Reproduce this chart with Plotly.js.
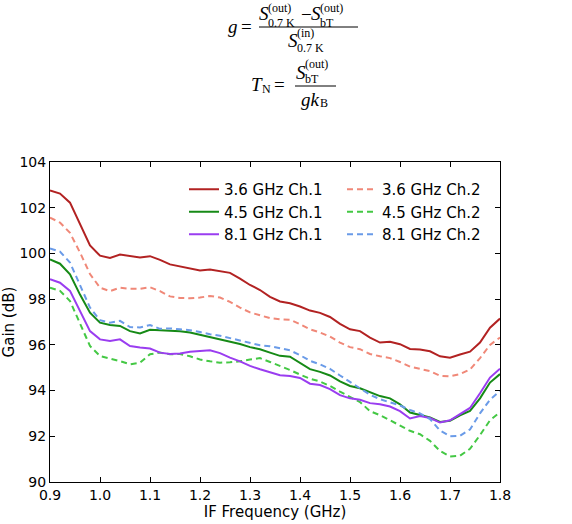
<!DOCTYPE html>
<html>
<head>
<meta charset="utf-8">
<script src="https://cdn.plot.ly/plotly-3.0.1.min.js"></script>
<style>
  html, body { margin: 0; padding: 0; background: #ffffff; }
  #chart { width: 572px; height: 524px; }
</style>
</head>
<body>
<div id="chart"></div>
<script>
// IF frequency grid (GHz)
const freq = [0.90, 0.92, 0.94, 0.96, 0.98, 1.00, 1.02, 1.04, 1.06, 1.08,
              1.10, 1.12, 1.14, 1.16, 1.18, 1.20, 1.22, 1.24, 1.26, 1.28,
              1.30, 1.32, 1.34, 1.36, 1.38, 1.40, 1.42, 1.44, 1.46, 1.48,
              1.50, 1.52, 1.54, 1.56, 1.58, 1.60, 1.62, 1.64, 1.66, 1.68,
              1.70, 1.72, 1.74, 1.76, 1.78, 1.80];

// Gain (dB) per LO frequency and channel
const gain36ch1 = [102.75, 102.62, 102.22, 101.30, 100.35, 99.90, 99.80, 99.95, 99.88, 99.82,
                   99.88, 99.72, 99.52, 99.42, 99.32, 99.25, 99.30, 99.22, 99.15, 98.90,
                   98.62, 98.40, 98.10, 97.90, 97.82, 97.68, 97.50, 97.40, 97.22, 96.92,
                   96.68, 96.60, 96.32, 96.10, 96.14, 96.03, 95.82, 95.80, 95.72, 95.50,
                   95.44, 95.58, 95.70, 96.10, 96.75, 97.15];
const gain36ch2 = [101.57, 101.35, 100.90, 100.04, 99.10, 98.50, 98.35, 98.50, 98.45, 98.45,
                   98.52, 98.35, 98.12, 98.05, 98.04, 98.07, 98.14, 98.07, 97.88, 97.63,
                   97.42, 97.29, 97.17, 97.12, 97.10, 96.90, 96.68, 96.54, 96.36, 96.10,
                   95.90, 95.81, 95.60, 95.50, 95.42, 95.25, 95.05, 94.95, 94.85, 94.65,
                   94.62, 94.72, 94.92, 95.42, 96.00, 96.32];
const gain45ch1 = [99.74, 99.55, 99.09, 98.20, 97.41, 96.97, 96.87, 96.83, 96.60, 96.50,
                   96.66, 96.64, 96.60, 96.60, 96.54, 96.44, 96.34, 96.22, 96.12, 96.04,
                   95.90, 95.81, 95.66, 95.52, 95.48, 95.22, 94.94, 94.82, 94.66, 94.40,
                   94.20, 94.10, 93.92, 93.76, 93.66, 93.40, 93.04, 92.94, 92.82, 92.63,
                   92.68, 92.92, 93.11, 93.66, 94.35, 94.72];
const gain45ch2 = [98.50, 98.36, 97.92, 96.90, 95.95, 95.51, 95.41, 95.29, 95.15, 95.22,
                   95.59, 95.66, 95.59, 95.60, 95.50, 95.36, 95.28, 95.22, 95.24, 95.28,
                   95.36, 95.42, 95.25, 95.08, 94.90, 94.70, 94.52, 94.40, 94.20, 93.95,
                   93.72, 93.50, 93.10, 92.92, 92.70, 92.48, 92.24, 92.09, 91.80, 91.36,
                   91.12, 91.15, 91.45, 92.05, 92.70, 93.05];
const gain81ch1 = [98.87, 98.72, 98.36, 97.48, 96.60, 96.24, 96.17, 96.24, 95.95, 95.88,
                   95.84, 95.66, 95.60, 95.62, 95.70, 95.73, 95.76, 95.64, 95.44, 95.28,
                   95.08, 94.93, 94.80, 94.67, 94.64, 94.55, 94.30, 94.24, 94.06, 93.80,
                   93.66, 93.60, 93.45, 93.40, 93.30, 93.10, 92.78, 92.89, 92.80, 92.60,
                   92.70, 92.96, 93.24, 93.88, 94.57, 94.96];
const gain81ch2 = [100.22, 100.08, 99.60, 98.65, 97.63, 97.08, 96.97, 97.05, 96.78, 96.76,
                   96.87, 96.70, 96.72, 96.68, 96.64, 96.56, 96.46, 96.40, 96.30, 96.20,
                   96.08, 95.98, 95.94, 95.84, 95.76, 95.55, 95.30, 95.15, 94.95, 94.66,
                   94.38, 94.08, 93.82, 93.62, 93.50, 93.35, 93.15, 93.00, 92.75, 92.25,
                   92.00, 92.02, 92.30, 93.00, 93.60, 93.98];

const seriesNames = ['3.6 GHz Ch.1', '4.5 GHz Ch.1', '8.1 GHz Ch.1',
                     '3.6 GHz Ch.2', '4.5 GHz Ch.2', '8.1 GHz Ch.2'];
const seriesData = [gain36ch1, gain45ch1, gain81ch1, gain36ch2, gain45ch2, gain81ch2];
const seriesColors = ['#b22222', '#168a16', '#9a3df0', '#f08878', '#44c844', '#6a9be8'];
const seriesDash = ['solid', 'solid', 'solid', '6px,4px', '6px,4px', '6px,4px'];
// Channel 1 entries go in the left legend column, channel 2 in the right one
const seriesLegend = ['legend', 'legend', 'legend', 'legend2', 'legend2', 'legend2'];
// draw order: 3.6 first, then 4.5, then 8.1
const drawOrder = [0, 3, 1, 4, 2, 5];

const traces = drawOrder.map(i => ({
  type: 'scatter',
  mode: 'lines',
  x: freq,
  y: seriesData[i],
  name: seriesNames[i],
  legend: seriesLegend[i],
  line: { color: seriesColors[i], width: 2, dash: seriesDash[i] }
}));

// Page geometry: plot area spans px 50..500 horizontally, 162..482 vertically
const M = { l: 50, r: 72, t: 162, b: 42 };
const PW = 572 - M.l - M.r, PH = 524 - M.t - M.b;
const px = v => (v - M.l) / PW;
const py = v => (524 - M.b - v) / PH;

// Formula pieces drawn above the plot: [text, left px, py, size, vertical anchor]
const serif = 'Liberation Serif, DejaVu Serif, serif';
const formulaPieces = [
  ['<i>g</i>', 227, 26, 19, 'middle'], ['=', 240, 26, 19, 'middle'],
  ['<i>S</i>', 258, 13, 19, 'middle'], ['(out)', 267, 0, 12, 'top'], ['0.7 K', 267, 23, 12, 'middle'],
  ['−', 300, 14, 19, 'middle'],
  ['<i>S</i>', 310, 13, 19, 'middle'], ['(out)', 319, 0, 12, 'top'], ['bT', 319, 23, 12, 'middle'],
  ['<i>S</i>', 287, 41, 19, 'middle'], ['(in)', 296, 33, 12, 'middle'], ['0.7 K', 296, 48, 12, 'middle'],
  ['<i>T</i>', 250, 84, 19, 'middle'], ['N', 261, 89, 12, 'middle'], ['=', 273, 84, 19, 'middle'],
  ['<i>S</i>', 295, 72, 19, 'middle'], ['(out)', 304, 64, 12, 'middle'], ['bT', 304, 79, 12, 'middle'],
  ['<i>gk</i>', 300, 99, 19, 'middle'], ['B', 319, 103, 12, 'middle']
];
const annotations = formulaPieces.map(p => ({
  text: p[0], x: px(p[1]), y: py(p[2]), xref: 'paper', yref: 'paper',
  xanchor: 'left', yanchor: p[4], showarrow: false, borderpad: 0,
  font: { family: serif, size: p[3], color: '#000' }
}));
const bars = [[259, 358, 27], [295, 336, 86]].map(b => ({
  type: 'line', xref: 'paper', yref: 'paper',
  x0: px(b[0]), x1: px(b[1]), y0: py(b[2]), y1: py(b[2]),
  line: { color: '#000', width: 1 }
}));

const axisCommon = {
  showline: true, mirror: 'ticks', linecolor: '#000', linewidth: 1,
  ticks: 'inside', ticklen: 5, tickwidth: 1, tickcolor: '#000',
  showgrid: false, zeroline: false,
  tickfont: { family: 'DejaVu Sans', size: 14, color: '#000' }
};

const legendCommon = {
  orientation: 'v', y: py(173), xanchor: 'left', yanchor: 'top',
  bgcolor: 'rgba(0,0,0,0)', borderwidth: 0, tracegroupgap: 0,
  font: { family: 'DejaVu Sans', size: 15, color: '#000' }
};

const layout = {
  width: 572, height: 524,
  margin: M,
  paper_bgcolor: '#fff', plot_bgcolor: '#fff',
  font: { family: 'DejaVu Sans', color: '#000' },
  showlegend: true,
  legend: Object.assign({}, legendCommon, { x: px(184) }),
  legend2: Object.assign({}, legendCommon, { x: px(342) }),
  xaxis: Object.assign({}, axisCommon, {
    range: [0.9, 1.8], dtick: 0.1, tick0: 0.9, tickformat: '.1f',
    title: { text: 'IF Frequency (GHz)', font: { family: 'DejaVu Sans', size: 15 }, standoff: 4 }
  }),
  yaxis: Object.assign({}, axisCommon, {
    range: [90, 104], dtick: 2, tick0: 90,
    title: { text: 'Gain (dB)', font: { family: 'DejaVu Sans', size: 15 }, standoff: 6 }
  }),
  annotations: annotations,
  shapes: bars
};

Plotly.newPlot('chart', traces, layout, { displayModeBar: false, staticPlot: true });
</script>
</body>
</html>
